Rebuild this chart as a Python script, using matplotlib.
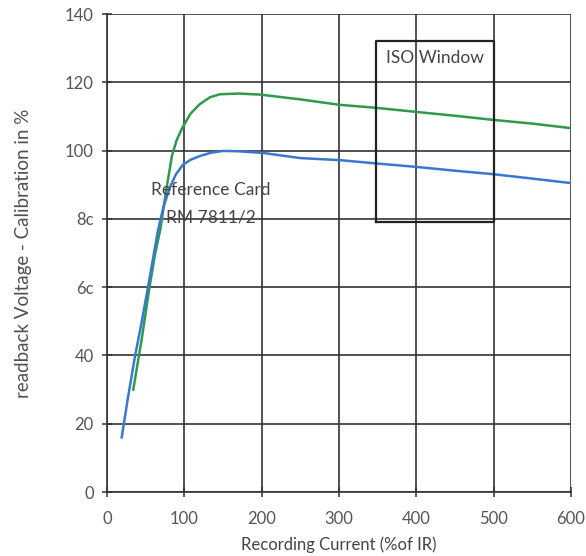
import matplotlib.pyplot as plt

plt.rcParams["font.family"] = ["Lato", "DejaVu Sans"]

# readings
green_x = [34, 45, 55, 62, 69, 77, 84, 90, 97, 108, 120, 133, 146, 170, 198, 220, 250, 301, 349, 401, 450, 499, 550, 599]
green_y = [30, 45, 60, 69.5, 77, 89, 98.5, 103, 106.5, 110.8, 113.6, 115.6, 116.5, 116.7, 116.4, 115.8, 115, 113.4, 112.5, 111.3, 110.2, 109, 107.9, 106.6]

blue_x = [19, 27, 36, 45, 53, 60, 66, 73, 81.5, 89, 98, 108, 120, 135, 150, 170, 202, 250, 301, 350, 401, 450, 499, 550, 599]
blue_y = [16, 27.5, 39.5, 50, 60, 69, 76.7, 83.5, 89.3, 93, 95.8, 97.3, 98.4, 99.4, 99.9, 99.8, 99.3, 97.8, 97.2, 96.2, 95.2, 94.1, 93.1, 91.8, 90.5]

x_ticks = [0, 100, 200, 300, 400, 500, 600]
y_ticks = [0, 20, 40, 60, 80, 100, 120, 140]
y_labels = ["0", "20", "40", "6c", "8c", "100", "120", "140"]

iso_x = (348, 500)
iso_y = (79, 132)

text_col = "#444444"
grid_col = "#333333"

fig = plt.figure(figsize=(5.86, 5.56), dpi=100)
ax = fig.add_axes([0.1826, 0.1151, 0.7918, 0.8597])

ax.plot(green_x, green_y, color="#2e9a4a", lw=1.8, zorder=3)
ax.plot(blue_x, blue_y, color="#3a78d0", lw=1.8, zorder=3)

ax.plot([iso_x[0], iso_x[1], iso_x[1], iso_x[0], iso_x[0]],
        [iso_y[0], iso_y[0], iso_y[1], iso_y[1], iso_y[0]],
        color="#222222", lw=1.6, zorder=4)
ax.text(sum(iso_x) / 2, 127, "ISO Window", ha="center", va="center",
        fontsize=12.5, color=text_col, zorder=5)

ax.text(134, 88.5, "Reference Card", ha="center", va="center",
        fontsize=12.5, color=text_col, zorder=5)
ax.text(134, 80.5, "RM 7811/2", ha="center", va="center",
        fontsize=12.5, color=text_col, zorder=5)

ax.set_xlim(0, 600)
ax.set_ylim(0, 140)
ax.set_xticks(x_ticks)
ax.set_yticks(y_ticks)
ax.set_yticklabels(y_labels)

ax.grid(True, color=grid_col, lw=1.2)
for s in ["top", "right"]:
    ax.spines[s].set_visible(False)
for s in ["left", "bottom"]:
    ax.spines[s].set_color(grid_col)
    ax.spines[s].set_linewidth(1.2)

ax.tick_params(direction="inout", length=7, width=1.1, color=grid_col,
               labelsize=12, labelcolor="#555555")
ax.tick_params(axis="x", pad=10)
ax.tick_params(axis="y", pad=6)

ax.set_xlabel("Recording Current (%of IR)", fontsize=12, color=text_col, labelpad=7)
ax.set_ylabel("readback Voltage - Calibration in %", fontsize=13.5, color="#505050", labelpad=24)

fig.savefig("out.png", dpi=100)
